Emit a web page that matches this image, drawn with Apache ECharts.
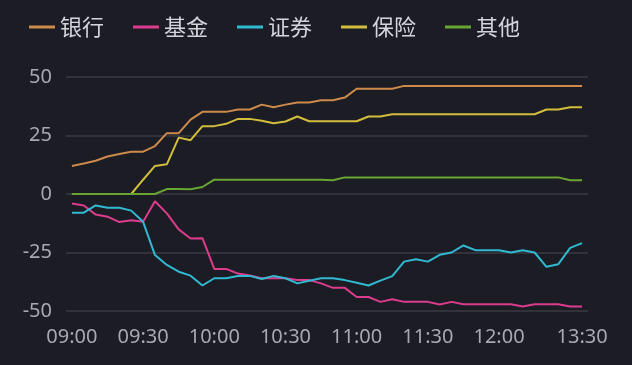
<!DOCTYPE html>
<html>
<head>
<meta charset="utf-8">
<script src="https://cdn.jsdelivr.net/npm/echarts@6/dist/echarts.min.js"></script>
<style>
html,body{margin:0;padding:0;background:#1b1c24;}
#c{width:632px;height:365px;}
</style>
</head>
<body>
<div id="c"></div>
<script>
var categories = ["09:00","09:05","09:10","09:15","09:20","09:25","09:30","09:35","09:40","09:45","09:50","09:55",
"10:00","10:05","10:10","10:15","10:20","10:25","10:30","10:35","10:40","10:45","10:50","10:55",
"11:00","11:05","11:10","11:15","11:20","11:25","11:30","11:35","11:40","11:45","11:50","11:55",
"12:00","13:00","13:05","13:10","13:15","13:20","13:25","13:30"];
var shownLabels = ["09:00","09:30","10:00","10:30","11:00","11:30","12:00","13:30"];
var seriesNames = ["银行","基金","证券","保险","其他"];
var bank = [12.0,13.0,14.2,16.0,17.1,18.1,18.1,20.5,26.0,26.0,31.8,35.1,
35.1,35.1,36.1,36.1,38.2,37.1,38.2,39.1,39.1,40.1,40.1,41.2,
45.0,45.0,45.0,45.0,46.2,46.2,46.2,46.2,46.2,46.2,46.2,46.2,
46.2,46.2,46.2,46.2,46.2,46.2,46.2,46.2];
var fund = [-4.1,-4.9,-8.8,-9.7,-12.0,-11.2,-11.9,-3.1,-8.3,-15.1,-19.0,-18.9,
-32.0,-32.0,-34.0,-34.8,-36.0,-36.0,-36.0,-36.8,-36.8,-38.2,-40.1,-40.1,
-44.0,-44.0,-46.1,-45.0,-46.1,-46.1,-46.1,-47.2,-46.1,-47.1,-47.1,-47.1,
-47.1,-47.1,-48.1,-47.1,-47.1,-47.1,-48.1,-48.1];
var securities = [-8.0,-8.0,-4.9,-5.9,-5.9,-7.1,-11.9,-26.1,-30.3,-33.2,-34.9,-39.1,
-36.0,-36.0,-35.0,-35.0,-36.3,-35.0,-36.0,-38.2,-37.1,-36.0,-36.0,-36.8,
-37.9,-39.1,-37.0,-35.1,-28.9,-27.9,-28.9,-26.0,-25.0,-22.0,-24.0,-24.0,
-24.0,-25.0,-24.0,-25.0,-31.1,-30.0,-23.0,-21.0];
var insurance = [0,0,0,0,0,0,6.1,12.0,12.7,24.1,23.0,29.0,
29.0,30.0,32.1,32.1,31.3,30.2,31.0,33.1,31.1,31.1,31.1,31.1,
31.1,33.1,33.1,34.1,34.1,34.1,34.1,34.1,34.1,34.1,34.1,34.1,
34.1,34.1,34.1,34.1,36.1,36.1,37.1,37.1];
var other = [0,0,0,0,0,0,0,0,2.1,2.1,2.0,3.0,
6.1,6.1,6.1,6.1,6.1,6.1,6.1,6.1,6.1,6.1,5.9,7.1,
7.1,7.1,7.1,7.1,7.1,7.1,7.1,7.1,7.1,7.1,7.1,7.1,
7.1,7.1,7.1,7.1,7.1,7.1,5.9,5.9];
var yTicks = {min:-50, max:50, interval:25};
var colors = ["#cd8a4b","#dc3c8c","#32b9d2","#d2be3c","#69a532"];
var dataSets = [bank, fund, securities, insurance, other];

var chart = echarts.init(document.getElementById('c'));
chart.setOption({
  backgroundColor:'#1b1c24',
  animation:false,
  color:colors,
  legend:{
    left:24, top:11, icon:'rect', itemWidth:26, itemHeight:3, itemGap:29,
    textStyle:{color:'#d4d4dc', fontSize:22, fontFamily:'Noto Sans CJK SC'},
    data:seriesNames
  },
  grid:{left:66, right:44, top:77, bottom:54, containLabel:false},
  xAxis:{
    type:'category', data:categories, boundaryGap:true,
    axisLine:{show:false}, axisTick:{show:false},
    axisLabel:{color:'#a8a8b4', fontSize:20, margin:16, fontFamily:'Noto Sans',
      interval:function(i, v){ return shownLabels.indexOf(v) >= 0; }},
    splitLine:{show:false}
  },
  yAxis:{
    type:'value', min:yTicks.min, max:yTicks.max, interval:yTicks.interval,
    axisLine:{show:false}, axisTick:{show:false},
    axisLabel:{color:'#a8a8b4', fontSize:20, margin:14, fontFamily:'Noto Sans'},
    splitLine:{lineStyle:{color:'#32333a', width:2}}
  },
  series: seriesNames.map(function(n, k){
    return {name:n, type:'line', data:dataSets[k], showSymbol:false, symbol:'none',
      lineStyle:{width:2, color:colors[k]}, itemStyle:{color:colors[k]}};
  })
});
</script>
</body>
</html>
